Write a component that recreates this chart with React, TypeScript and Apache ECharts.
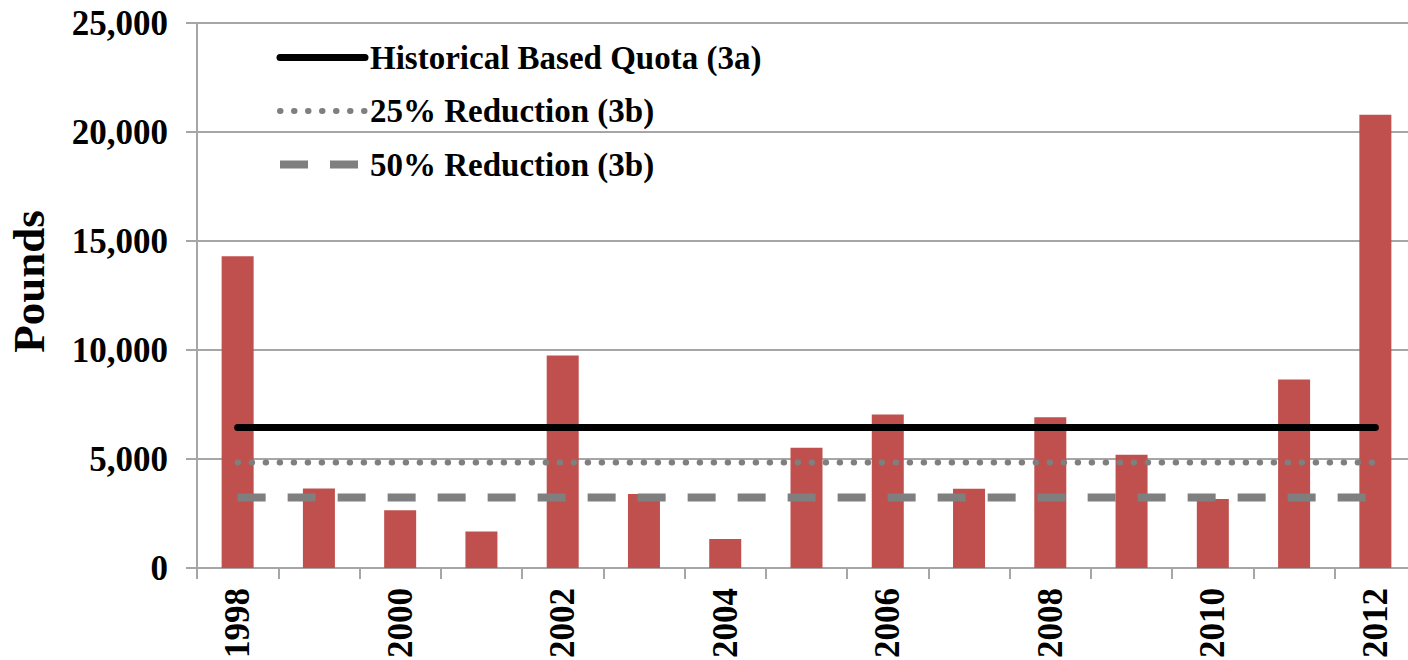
import React, { useEffect, useRef } from "react";
import * as echarts from "echarts";

const years = ["1998", "1999", "2000", "2001", "2002", "2003", "2004", "2005", "2006", "2007", "2008", "2009", "2010", "2011", "2012"];
const pounds = [14300, 3650, 2650, 1670, 9750, 3400, 1330, 5520, 7040, 3630, 6920, 5190, 3170, 8650, 20790];
const historicalQuota = [6450, 6450, 6450, 6450, 6450, 6450, 6450, 6450, 6450, 6450, 6450, 6450, 6450, 6450, 6450];
const reduction25 = [4840, 4840, 4840, 4840, 4840, 4840, 4840, 4840, 4840, 4840, 4840, 4840, 4840, 4840, 4840];
const reduction50 = [3230, 3230, 3230, 3230, 3230, 3230, 3230, 3230, 3230, 3230, 3230, 3230, 3230, 3230, 3230];
const yTicks = { min: 0, max: 25000, interval: 5000 };

const FONT = '"Liberation Serif", "Times New Roman", serif';
const GRID_COLOR = "#a6a6a6";

const quotaStyle = { color: "#000000", width: 7, cap: "round" as const };
const dotStyle = { color: "#7f7f7f", width: 6, type: [0.5, 13.5], cap: "round" as const };
const dashStyle = { color: "#7f7f7f", width: 8, type: [28, 22], cap: "butt" as const };

export default function App() {
  const ref = useRef<HTMLDivElement>(null);
  useEffect(() => {
    if (!ref.current) return;
    const chart = echarts.init(ref.current, null, { renderer: "svg" });
    chart.setOption({
      animation: false,
      backgroundColor: "#ffffff",
      grid: { left: 197, right: 0, top: 23, bottom: 92, containLabel: false, outerBoundsMode: "none" },
      legend: {
        orient: "vertical",
        left: 271,
        top: 36,
        itemWidth: 85,
        itemHeight: 14,
        itemGap: 20.5,
        textStyle: { fontFamily: FONT, fontWeight: "bold", fontSize: 33, color: "#000" },
        data: [
          { name: "Historical Based Quota (3a)", itemStyle: { opacity: 0 }, lineStyle: quotaStyle },
          { name: "25% Reduction (3b)", itemStyle: { opacity: 0 }, lineStyle: dotStyle },
          { name: "50% Reduction (3b)", itemStyle: { opacity: 0 }, lineStyle: dashStyle },
        ],
      },
      xAxis: {
        type: "category",
        data: years,
        boundaryGap: true,
        axisLine: { lineStyle: { color: GRID_COLOR, width: 2 } },
        axisTick: { show: true, interval: 0, length: 11, lineStyle: { color: GRID_COLOR, width: 2 } },
        axisLabel: {
          interval: 1,
          rotate: 90,
          margin: 20,
          fontFamily: FONT,
          fontWeight: "bold",
          fontSize: 35,
          color: "#000",
        },
      },
      yAxis: {
        type: "value",
        min: yTicks.min,
        max: yTicks.max,
        interval: yTicks.interval,
        name: "Pounds",
        nameLocation: "middle",
        nameRotate: 90,
        nameGap: 146,
        nameTextStyle: {
          fontFamily: FONT,
          fontWeight: "bold",
          fontSize: 45,
          color: "#000",
          padding: [0, 0, 0, 28],
        },
        axisLine: { show: true, lineStyle: { color: GRID_COLOR, width: 2 } },
        axisTick: { show: true, length: 11, lineStyle: { color: GRID_COLOR, width: 2 } },
        splitLine: { show: true, lineStyle: { color: GRID_COLOR, width: 2 } },
        axisLabel: {
          margin: 29,
          fontFamily: FONT,
          fontWeight: "bold",
          fontSize: 35,
          color: "#000",
          formatter: (v: number) => v.toLocaleString("en-US"),
        },
      },
      series: [
        {
          name: "Pounds",
          type: "bar",
          data: pounds,
          barWidth: 32,
          itemStyle: { color: "#c0504d" },
          z: 2,
        },
        {
          name: "Historical Based Quota (3a)",
          type: "line",
          data: historicalQuota,
          symbol: "none",
          itemStyle: { color: "#000000" },
          lineStyle: quotaStyle,
          z: 5,
        },
        {
          name: "25% Reduction (3b)",
          type: "line",
          data: reduction25,
          symbol: "none",
          itemStyle: { color: "#7f7f7f" },
          lineStyle: dotStyle,
          z: 4,
        },
        {
          name: "50% Reduction (3b)",
          type: "line",
          data: reduction50,
          symbol: "none",
          itemStyle: { color: "#7f7f7f" },
          lineStyle: dashStyle,
          z: 4,
        },
      ],
    });
    return () => chart.dispose();
  }, []);
  return (
    <div style={{ position: "absolute", left: 0, top: 0, width: 1408, height: 660, overflow: "hidden" }}>
      <div ref={ref} style={{ position: "absolute", left: 0, top: 0, width: 1416, height: 660 }} />
    </div>
  );
}
